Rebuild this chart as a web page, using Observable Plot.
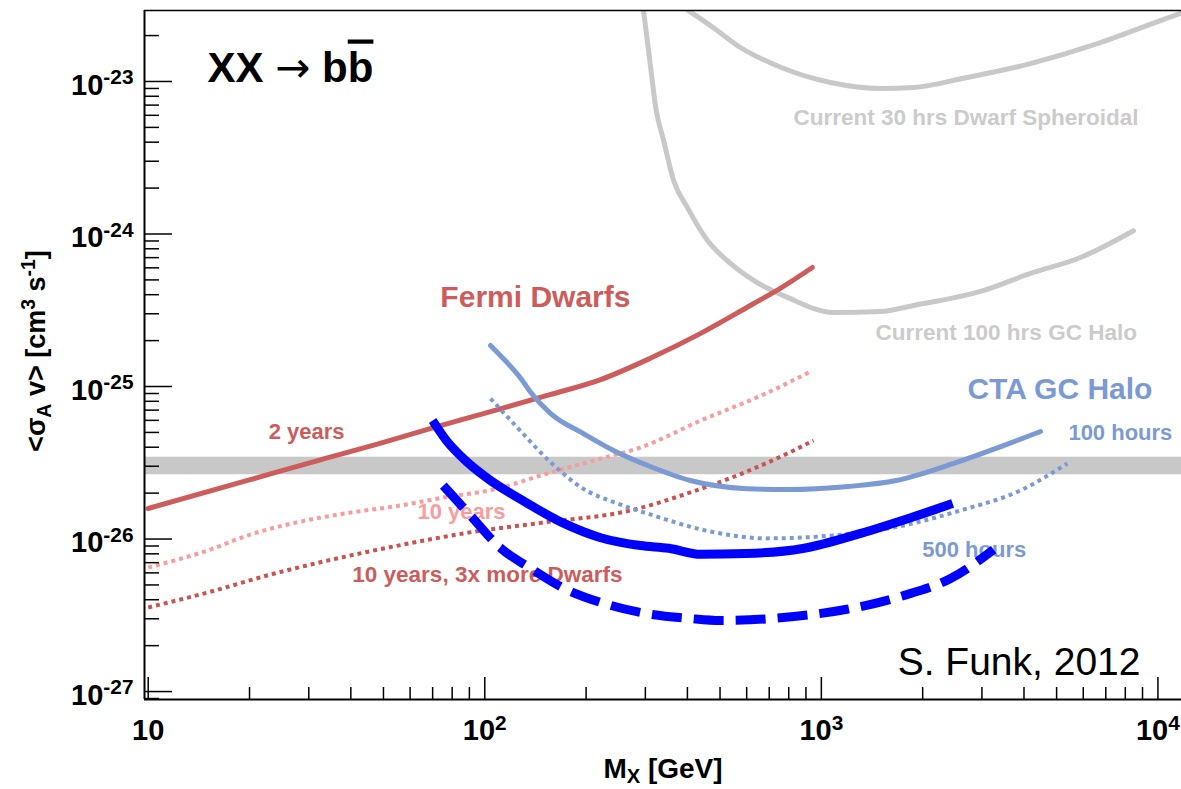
<!DOCTYPE html>
<html><head><meta charset="utf-8">
<script src="https://cdn.jsdelivr.net/npm/d3@7"></script>
<script src="https://cdn.jsdelivr.net/npm/@observablehq/plot@0.6"></script>
<style>
html,body{margin:0;padding:0;background:#fff;}
#chart svg{display:block;}
</style>
</head><body><div id="chart"></div>
<script>
// ---------- data (mass in GeV, <sigma v> in cm^3 s^-1) ----------
const xTickValues = [10, 100, 1000, 10000];
const xTickLabels = ["10", "10^{2}", "10^{3}", "10^{4}"];
const yTickValues = [1e-27, 1e-26, 1e-25, 1e-24, 1e-23];
const yTickLabels = ["10^{-27}", "10^{-26}", "10^{-25}", "10^{-24}", "10^{-23}"];

const thermalLow = 2.64e-26, thermalHigh = 3.44e-26;

const dwarf30Mass  = [400, 477, 575, 757, 1065, 1500, 1880, 2645, 4180, 6610, 9310, 11750];
const dwarf30Sigma = [2.95e-23, 2.26e-23, 1.67e-23, 1.24e-23, 9.85e-24, 9.0e-24, 9.14e-24, 1.05e-23, 1.31e-23, 1.77e-23, 2.33e-23, 2.82e-23];

const gc100Mass  = [296, 311, 322, 340, 364, 400, 459, 537, 629, 793, 1086, 1500, 1880, 2970, 4180, 5890, 8460];
const gc100Sigma = [2.95e-23, 1.24e-23, 6.76e-24, 4.10e-24, 2.24e-24, 1.49e-24, 9.06e-25, 6.41e-25, 4.96e-25, 3.84e-25, 3.06e-25, 3.10e-25, 3.40e-25, 4.20e-25, 5.51e-25, 7.01e-25, 1.05e-24];

const fermi2Mass  = [10.0, 20.1, 31.9, 50.0, 70.4, 99.1, 157, 221, 310, 438, 615, 755, 940];
const fermi2Sigma = [1.585e-26, 2.45e-26, 3.27e-26, 4.30e-26, 5.38e-26, 6.65e-26, 8.87e-26, 1.11e-25, 1.53e-25, 2.23e-25, 3.40e-25, 4.40e-25, 6.03e-25];

const fermi10Mass  = [10, 15.0, 20.1, 28.3, 39.9, 56.2, 75.4, 109, 146.5, 221, 290, 438, 683, 940];
const fermi10Sigma = [6.50e-27, 8.41e-27, 1.07e-26, 1.30e-26, 1.49e-26, 1.66e-26, 1.87e-26, 2.14e-26, 2.61e-26, 3.37e-26, 3.98e-26, 5.98e-26, 8.99e-26, 1.27e-25];

const fermi10x3Mass  = [10, 15.0, 23.7, 37.5, 59.3, 93.7, 148, 271, 408, 600, 793, 948];
const fermi10x3Sigma = [3.56e-27, 4.46e-27, 5.94e-27, 7.57e-27, 9.34e-27, 1.12e-26, 1.28e-26, 1.54e-26, 2.02e-26, 2.77e-26, 3.64e-26, 4.43e-26];

const cta100Mass  = [104, 115, 128, 137, 157, 196, 248, 310, 408, 600, 793, 1203, 1670, 2520, 3475, 4480];
const cta100Sigma = [1.86e-25, 1.48e-25, 1.13e-25, 9.14e-26, 6.65e-26, 4.92e-26, 3.69e-26, 2.99e-26, 2.42e-26, 2.14e-26, 2.11e-26, 2.21e-26, 2.42e-26, 3.18e-26, 4.10e-26, 5.07e-26];

const cta500Mass  = [104, 125, 157, 196, 248, 310, 452, 690, 1050, 1637, 2590, 3900, 5380];
const cta500Sigma = [8.34e-26, 5.38e-26, 3.18e-26, 2.14e-26, 1.71e-26, 1.45e-26, 1.14e-26, 1.01e-26, 1.05e-26, 1.19e-26, 1.54e-26, 2.08e-26, 3.13e-26];

const blueSolidMass  = [70.0, 76.9, 88.9, 104, 128, 170, 221, 290, 352, 438, 595, 880, 1309, 1842, 2455];
const blueSolidSigma = [5.98e-26, 4.43e-26, 3.18e-26, 2.42e-26, 1.82e-26, 1.28e-26, 1.02e-26, 9.06e-27, 8.70e-27, 7.95e-27, 8.03e-27, 8.67e-27, 1.09e-26, 1.38e-26, 1.71e-26];

const blueDashMass  = [75.3, 90.6, 111, 137, 170, 221, 290, 408, 501, 772, 1180, 1718, 2420, 3250];
const blueDashSigma = [2.24e-26, 1.43e-26, 8.79e-27, 6.41e-27, 4.81e-27, 3.84e-27, 3.30e-27, 3.01e-27, 2.92e-27, 3.06e-27, 3.45e-27, 4.20e-27, 5.51e-27, 8.53e-27];

// label anchors (text, mass, sigma at baseline-left)
const labelTexts = ["Fermi Dwarfs", "2 years", "10 years", "10 years, 3x more Dwarfs", "CTA GC Halo", "100 hours", "500 hours", "Current 30 hrs Dwarf Spheroidal", "Current 100 hrs GC Halo"];
const labelMass  = [73.8, 22.8, 63.1, 40.4, 2716, 5420, 1995, 826, 1449];
const labelSigma = [3.30e-25, 4.56e-26, 1.36e-26, 5.19e-27, 8.34e-26, 4.43e-26, 7.67e-27, 5.22e-24, 2.03e-25];

// ---------- build ----------
const series = (m, s) => m.map((v, i) => ({mass: v, sigma: s[i]}));
const lab = i => [{text: labelTexts[i], mass: labelMass[i], sigma: labelSigma[i]}];

const xDomain = [9.75, 11750];
const yDomain = [8.87e-28, 2.92e-23];
const decadesBetween = (lo, hi) => {
  const out = [];
  for (let e = Math.floor(Math.log10(lo)); e <= Math.ceil(Math.log10(hi)); e++)
    for (let k = 2; k <= 9; k++) { const v = k * Math.pow(10, e); if (v > lo && v < hi) out.push(v); }
  return out;
};
const xMinor = decadesBetween(xDomain[0], xDomain[1]);
const yMinor = decadesBetween(yDomain[0], yDomain[1]);
const xLabel = d => xTickLabels[xTickValues.findIndex(v => Math.abs(v - d) / v < 1e-6)];
const yLabel = d => yTickLabels[yTickValues.findIndex(v => Math.abs(v - d) / v < 1e-6)];

const red = "#cd5c5c", pink = "#f99c9c", darkRed = "#c95252", lightBlue = "#7b9ad3", blue = "#0000ff", gray = "#c8c8c8", grayText = "#cbcbcb";
const line = {x: "mass", y: "sigma", curve: "monotone-x", clip: true};
const txt = {x: "mass", y: "sigma", text: "text", textAnchor: "start", lineAnchor: "bottom", fontWeight: "bold"};

const svg = Plot.plot({
  width: 1181, height: 789,
  marginLeft: 144, marginRight: 0, marginTop: 10, marginBottom: 90,
  x: {type: "log", domain: xDomain},
  y: {type: "log", domain: yDomain},
  style: {fontFamily: "'Liberation Sans', Arial, Helvetica, sans-serif", background: "white", color: "black"},
  marks: [
    Plot.rect([{lo: thermalLow, hi: thermalHigh}], {y1: "lo", y2: "hi", fill: gray}),
    Plot.line(series(dwarf30Mass, dwarf30Sigma), {...line, stroke: gray, strokeWidth: 5}),
    Plot.line(series(gc100Mass, gc100Sigma), {...line, stroke: gray, strokeWidth: 5}),
    Plot.text(lab(7), {...txt, fill: grayText, fontSize: 22.5}),
    Plot.text(lab(8), {...txt, fill: grayText, fontSize: 22.5}),
    Plot.text(lab(0), {...txt, fill: red, fontSize: 30}),
    Plot.text(lab(1), {...txt, fill: red, fontSize: 22}),
    Plot.text(lab(2), {...txt, fill: pink, fontSize: 22}),
    Plot.text(lab(3), {...txt, fill: red, fontSize: 22.5}),
    Plot.line(series(fermi10Mass, fermi10Sigma), {...line, stroke: pink, strokeWidth: 4, strokeDasharray: "4,4", strokeLinecap: "butt"}),
    Plot.line(series(fermi10x3Mass, fermi10x3Sigma), {...line, stroke: darkRed, strokeWidth: 4, strokeDasharray: "4,4", strokeLinecap: "butt"}),
    Plot.line(series(fermi2Mass, fermi2Sigma), {...line, stroke: red, strokeWidth: 5}),
    Plot.text(lab(4), {...txt, fill: lightBlue, fontSize: 30}),
    Plot.text(lab(5), {...txt, fill: lightBlue, fontSize: 22}),
    Plot.text(lab(6), {...txt, fill: lightBlue, fontSize: 22}),
    Plot.line(series(cta500Mass, cta500Sigma), {...line, stroke: lightBlue, strokeWidth: 4, strokeDasharray: "4,4", strokeLinecap: "butt"}),
    Plot.line(series(cta100Mass, cta100Sigma), {...line, stroke: lightBlue, strokeWidth: 5}),
    Plot.line(series(blueSolidMass, blueSolidSigma), {...line, stroke: blue, strokeWidth: 9, strokeLinecap: "butt"}),
    Plot.line(series(blueDashMass, blueDashSigma), {...line, stroke: blue, strokeWidth: 9, strokeDasharray: "30,12", strokeLinecap: "butt"}),
    // title, credit, axis titles
    Plot.text(["XX !{\u2192} b~{b}"], {frameAnchor: "top-left", dx: 63, dy: 71, textAnchor: "start", lineAnchor: "bottom", fontSize: 42, fontWeight: "bold", fill: "black"}),
    Plot.text(["S. Funk, 2012"], {frameAnchor: "bottom-right", dx: -41, dy: -25, textAnchor: "end", lineAnchor: "bottom", fontSize: 39, fill: "black"}),
    Plot.text(["<\u03c3_{A} v> [cm^{3} s^{-1}]"], {frameAnchor: "left", rotate: -90, dx: -108, dy: -4, textAnchor: "middle", lineAnchor: "middle", fontSize: 27, fontWeight: "bold", fill: "black"}),
    Plot.text(["M_{X} [GeV]"], {frameAnchor: "bottom", dy: 78, textAnchor: "middle", lineAnchor: "bottom", fontSize: 28, fontWeight: "bold", fill: "black"}),
    // axes: inward ticks + labels
    Plot.axisY(yTickValues, {anchor: "left", tickSize: -28, tickFormat: () => "", label: null, strokeWidth: 1.5}),
    Plot.axisY(yMinor, {anchor: "left", tickSize: -15, tickFormat: () => "", label: null, strokeWidth: 1.5}),
    Plot.axisY(yTickValues, {anchor: "left", tickSize: 0, tickPadding: 11, dy: 4, tickFormat: yLabel, label: null, fontSize: 29, fontWeight: "bold"}),
    Plot.axisX(xTickValues, {anchor: "bottom", tickSize: -22, tickFormat: () => "", label: null, strokeWidth: 1.5}),
    Plot.axisX(xMinor, {anchor: "bottom", tickSize: -12, tickFormat: () => "", label: null, strokeWidth: 1.5}),
    Plot.axisX(xTickValues, {anchor: "bottom", tickSize: 0, tickPadding: 20, tickFormat: xLabel, label: null, fontSize: 29, fontWeight: "bold"}),
    Plot.ruleX([xDomain[0]], {stroke: "black", strokeWidth: 2}),
    Plot.ruleY([yDomain[0]], {stroke: "black", strokeWidth: 2}),
    Plot.ruleY([yDomain[1]], {stroke: "black", strokeWidth: 1.5})
  ]
});
document.getElementById("chart").appendChild(svg);

// rich text: ^{sup}, _{sub}, ~{overline}, !{symbol}
const NS = "http://www.w3.org/2000/svg";
svg.querySelectorAll("text").forEach(t => {
  const s = t.textContent;
  if (!/[\^_~!]\{/.test(s)) return;
  const fs = parseFloat(getComputedStyle(t).fontSize) || 20;
  const parts = []; let last = 0;
  s.replace(/([\^_~!])\{([^}]*)\}/g, (m, op, inner, idx) => {
    if (idx > last) parts.push({t: s.slice(last, idx), op: ""});
    parts.push({t: inner, op}); last = idx + m.length; return m;
  });
  if (last < s.length) parts.push({t: s.slice(last), op: ""});
  t.textContent = "";
  let cur = 0;
  for (const p of parts) {
    const ts = document.createElementNS(NS, "tspan");
    const target = p.op === "^" ? -0.36 * fs : p.op === "_" ? 0.2 * fs : 0;
    if (target !== cur) ts.setAttribute("dy", target - cur);
    cur = target;
    if (p.op === "^" || p.op === "_") ts.setAttribute("font-size", 0.72 * fs);
    if (p.op === "~") ts.setAttribute("style", "text-decoration: overline; text-decoration-thickness: 3px;");
    if (p.op === "!") ts.setAttribute("style", "font-family: 'DejaVu Sans', sans-serif; font-weight: normal;");
    ts.textContent = p.t;
    t.appendChild(ts);
  }
});
</script>
</body></html>
